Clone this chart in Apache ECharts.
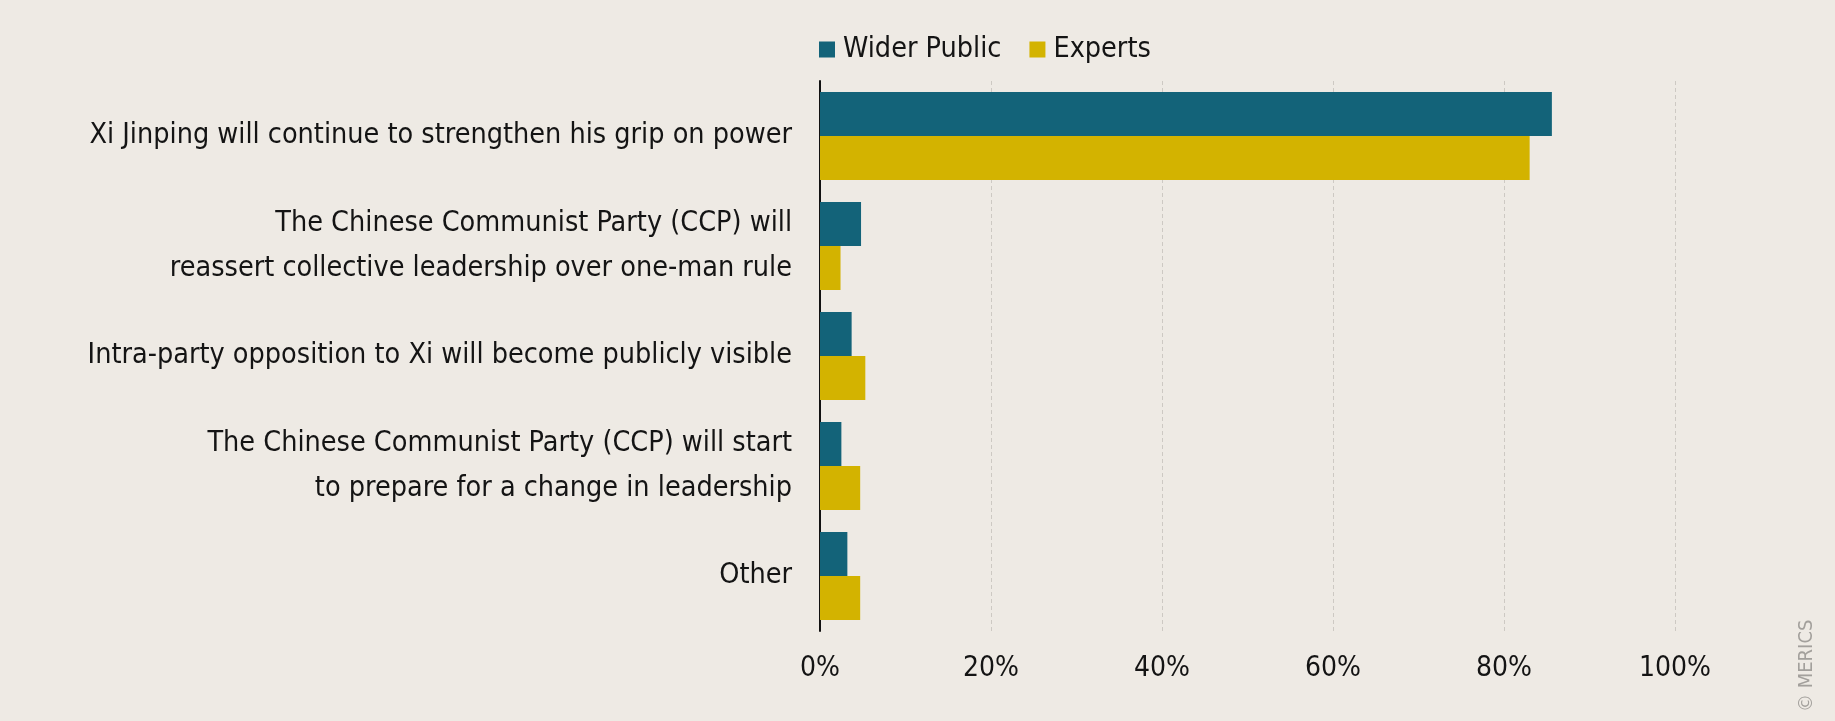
<!DOCTYPE html>
<html>
<head>
<meta charset="utf-8">
<script src="https://cdn.jsdelivr.net/npm/echarts@6/dist/echarts.min.js"></script>
<style>
  html, body { margin: 0; padding: 0; background: #eeeae4; }
  #chart { width: 1835px; height: 721px; }
</style>
</head>
<body>
<div id="chart"></div>
<script>
// 类别（纵轴）
const categories = [
  'Xi Jinping will continue to strengthen his grip on power',
  'The Chinese Communist Party (CCP) will\nreassert collective leadership over one-man rule',
  'Intra-party opposition to Xi will become publicly visible',
  'The Chinese Communist Party (CCP) will start\nto prepare for a change in leadership',
  'Other'
]
// 两组数据（百分比）
const widerPublic = [85.6, 4.8, 3.7, 2.5, 3.2]
const experts = [83.0, 2.4, 5.3, 4.7, 4.7]
const xTicks = [0, 20, 40, 60, 80, 100]

const font = '"DejaVu Sans Condensed", "Liberation Sans Narrow", sans-serif'
const textColor = '#141414'

let chartDom = document.getElementById('chart')
let myChart = echarts.init(chartDom)

let option = {
  backgroundColor: '#eeeae4',
  animation: false,
  legend: {
    left: 814,
    top: 30,
    itemWidth: 16,
    itemHeight: 16,
    itemGap: 28,
    icon: 'rect',
    textStyle: { fontFamily: font, fontSize: 28.5, color: textColor, padding: [0, 0, 0, 3] },
    data: ['Wider Public', 'Experts']
  },
  grid: { left: 820, right: 160, top: 81, bottom: 90, containLabel: false },
  xAxis: {
    type: 'value',
    min: xTicks[0],
    max: xTicks[xTicks.length - 1],
    interval: 20,
    axisLine: { show: false },
    axisTick: { show: false },
    axisLabel: {
      formatter: '{value}%',
      fontFamily: font,
      fontSize: 28,
      color: textColor,
      margin: 24
    },
    splitLine: { lineStyle: { color: '#cdc9c3', type: [4, 3], width: 1 } }
  },
  yAxis: {
    type: 'category',
    data: categories,
    inverse: true,
    axisLine: { show: true, lineStyle: { color: '#111', width: 2 } },
    axisTick: { show: false },
    axisLabel: {
      fontFamily: font,
      fontSize: 28.5,
      color: textColor,
      lineHeight: 45,
      margin: 28,
      align: 'right'
    }
  },
  series: [
    {
      name: 'Wider Public',
      type: 'bar',
      data: widerPublic,
      barGap: '0%',
      barCategoryGap: '20%',
      itemStyle: { color: '#136379' }
    },
    {
      name: 'Experts',
      type: 'bar',
      data: experts,
      barGap: '0%',
      barCategoryGap: '20%',
      itemStyle: { color: '#d3b300' }
    }
  ],
  graphic: [
    {
      type: 'text',
      x: 1797,
      y: 712,
      rotation: Math.PI / 2,
      style: {
        text: '© MERICS',
        fontFamily: font,
        fontSize: 20,
        fill: '#a3a09c'
      }
    }
  ]
}
myChart.setOption(option)
</script>
</body>
</html>
